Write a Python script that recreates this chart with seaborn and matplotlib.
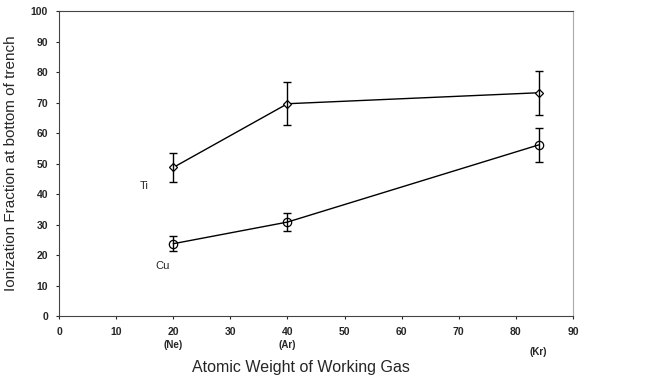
import numpy as np
import seaborn as sns
import matplotlib
matplotlib.use('Agg')
import matplotlib.pyplot as plt

# Data
atomic_weight = [20, 40, 84]
gas_names = ['(Ne)', '(Ar)', '(Kr)']
ti_fraction = [48.7, 69.6, 73.2]
ti_err = [4.9, 7.0, 7.2]
cu_fraction = [23.7, 30.8, 56.1]
cu_err = [2.4, 3.0, 5.5]

sns.set_theme(style='white')
plt.rcParams['font.family'] = ['Liberation Sans', 'DejaVu Sans']

fig = plt.figure(figsize=(6.53, 3.77), dpi=100)
ax = fig.add_axes([0.0904, 0.1618, 0.7871, 0.809])

# Ti series
sns.lineplot(x=atomic_weight, y=ti_fraction, ax=ax, color='black', lw=1,
             marker='D', markersize=4, markerfacecolor='white',
             markeredgecolor='black', markeredgewidth=0.9)
ax.errorbar(atomic_weight, ti_fraction, yerr=ti_err, fmt='none',
            ecolor='black', elinewidth=1, capsize=3, capthick=1)

# Cu series
sns.lineplot(x=atomic_weight, y=cu_fraction, ax=ax, color='black', lw=1,
             marker='o', markersize=6, markerfacecolor='none',
             markeredgecolor='black', markeredgewidth=0.9)
ax.errorbar(atomic_weight, cu_fraction, yerr=cu_err, fmt='none',
            ecolor='black', elinewidth=1, capsize=3, capthick=1)

ax.text(14.2, 41.5, 'Ti', fontsize=8)
ax.text(16.8, 15.5, 'Cu', fontsize=8)

ax.set_xlim(0, 90)
ax.set_ylim(0, 100)
ax.set_xticks(range(0, 91, 10))
ax.set_yticks(range(0, 101, 10))
ax.tick_params(axis='both', labelsize=7.5, length=2, width=0.8, direction='out',
               bottom=True, left=True, pad=6)
for lab in ax.get_xticklabels() + ax.get_yticklabels():
    lab.set_fontweight('bold')

for s in ['top', 'left', 'bottom']:
    ax.spines[s].set_color('#444444')
    ax.spines[s].set_linewidth(0.8)
ax.spines['right'].set_color('#aaaaaa')
ax.spines['right'].set_linewidth(0.8)

# gas names under the tick labels
for xw, name in zip(atomic_weight, gas_names):
    yoff = -0.095 if name != '(Kr)' else -0.118
    ax.text(xw, yoff, name, transform=ax.get_xaxis_transform(),
            ha='center', va='center', fontsize=7, fontweight='bold')

ax.set_xlabel('Atomic Weight of Working Gas', fontsize=11.5)
ax.xaxis.set_label_coords(0.47, -0.145)
ax.set_ylabel('Ionization Fraction at bottom of trench', fontsize=11, labelpad=9)

fig.savefig('out.png', dpi=100)
